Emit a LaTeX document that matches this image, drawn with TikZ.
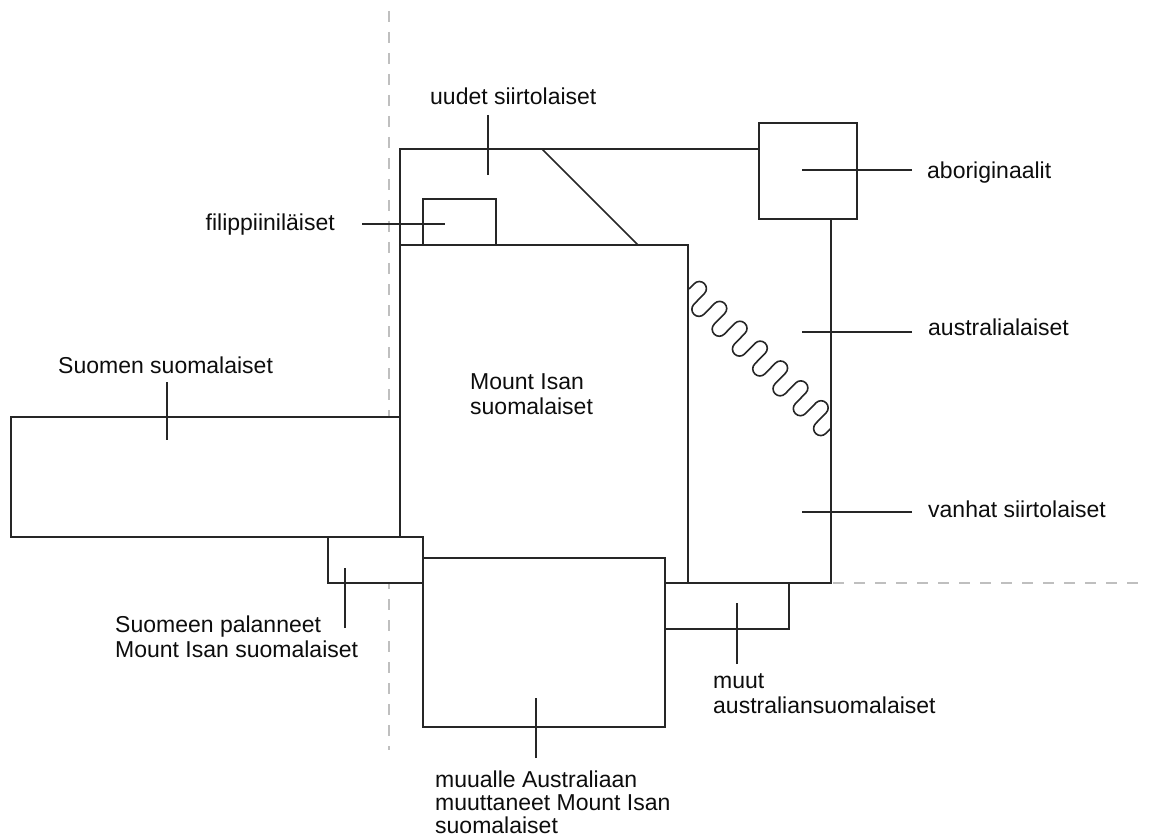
\documentclass[tikz,border=0pt]{standalone}
\usepackage{fontspec}
\setmainfont{Liberation Sans}
\tikzset{
  lbl/.style={font=\fontsize{23}{25}\selectfont, inner sep=0pt, text=black!95},
  edge/.style={draw=black!85, line width=1.6pt},
  boxw/.style={edge, fill=white},
  leader/.style={draw=black!85, line width=1.6pt},
  guide/.style={draw=black!25, line width=1.3pt, dash pattern=on 11pt off 10pt},
}
\begin{document}
\begin{tikzpicture}[x=1pt, y=-1pt]
    \useasboundingbox (0,0) rectangle (1149,837);
    % dashed guides
    \draw[guide] (389,11) -- (389,750);
    \draw[guide] (833,583) -- (1143,583);
    % Mount Isa, uudet, filippiiniläiset
    \draw[edge] (400,245) rectangle (688,583);
    \draw[edge] (400,245) -- (400,149) -- (759,149);
    \draw[edge] (542,149) -- (638,245);
    \draw[edge] (423,245) -- (423,199) -- (496,199) -- (496,245);
    % australialaiset, aboriginaalit
    \draw[boxw] (759,123) rectangle (857,219);
    \draw[edge] (831,219) -- (831,583) -- (688,583);
    \begin{scope}[shift={(689,289)}, rotate=-44.4, x=1pt, y=1pt]
        \draw[edge] (0,0) -- (0,7.5)
            foreach \k in {1,...,6}{ arc[start angle=180, end angle=0, radius=7.1pt] -- ++(0,-15)
                arc[start angle=180, end angle=360, radius=7.1pt] -- ++(0,15) }
            arc[start angle=180, end angle=0, radius=7.1pt] -- ++(0,-15)
            arc[start angle=180, end angle=360, radius=7.1pt] -- ++(0,7.5);
    \end{scope}
    % Suomi, palanneet, muualle, muut
    \draw[boxw] (11,417) rectangle (400,537);
    \draw[boxw] (328,537) rectangle (423,583);
    \draw[boxw] (423,558) rectangle (665,727);
    \draw[boxw] (665,583) rectangle (789,629);
    % labels (multi-line ones sit on their last baseline)
    \node[lbl, anchor=base west] (suomen) at (58,373) {Suomen suomalaiset};
    \node[lbl, anchor=base west] (uudet) at (430,105) {uudet siirtolaiset};
    \node[lbl, anchor=base east] (filip) at (335,231) {filippiiniläiset};
    \node[lbl, anchor=base west] (abor) at (927,179) {aboriginaalit};
    \node[lbl, anchor=base west] (austr) at (928,335) {australialaiset};
    \node[lbl, anchor=base west] (vanhat) at (928,517) {vanhat siirtolaiset};
    \node[lbl, anchor=base west, align=left] (misa) at (470,414) {Mount Isan\\suomalaiset};
    \node[lbl, anchor=base west, align=left] (palan) at (115,657) {Suomeen palanneet\\Mount Isan suomalaiset};
    \node[lbl, anchor=base west, align=left, font=\fontsize{23}{23}\selectfont] (muualle) at (435,833) {muualle Australiaan\\muuttaneet Mount Isan\\suomalaiset};
    \node[lbl, anchor=base west, align=left] (muut) at (713,713) {muut\\australiansuomalaiset};
    % leader ends
    \path (167,382) coordinate (suomenA) (167,440) coordinate (suomenB);
    \path (488,115) coordinate (uudetA) (488,175) coordinate (uudetB);
    \path (362,224) coordinate (filipA) (445,224) coordinate (filipB);
    \path (912,170) coordinate (aborA) (802,170) coordinate (aborB);
    \path (912,332) coordinate (austrA) (802,332) coordinate (austrB);
    \path (912,512) coordinate (vanhatA) (802,512) coordinate (vanhatB);
    \path (345,628) coordinate (palanA) (345,568) coordinate (palanB);
    \path (536,758) coordinate (muualleA) (536,698) coordinate (muualleB);
    \path (737,664) coordinate (muutA) (737,603) coordinate (muutB);
    \foreach \t in {suomen,uudet,filip,abor,austr,vanhat,palan,muualle,muut}
        \draw[leader] (\t A) -- (\t B);
\end{tikzpicture}
\end{document}
